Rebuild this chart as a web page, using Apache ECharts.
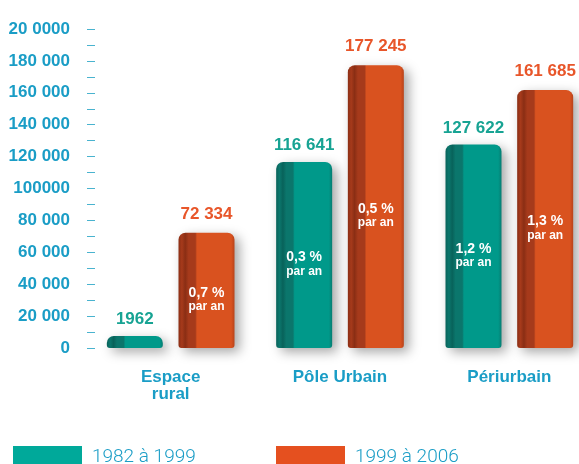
<!DOCTYPE html>
<html>
<head>
<meta charset="utf-8">
<script src="https://cdn.jsdelivr.net/npm/echarts@6/dist/echarts.min.js"></script>
<style>
html,body{margin:0;padding:0;background:#fff;}
#cmChart{width:579px;height:464px;}
</style>
</head>
<body>
<div id="cmChart"></div>
<script>
var categories = ['Espace\nrural', 'P\u00f4le Urbain', 'P\u00e9riurbain'];
var serieA = '1982 \u00e0 1999';
var serieB = '1999 \u00e0 2006';
var valuesA = [1962, 116641, 127622];
var valuesB = [72334, 177245, 161685];
var ratesA = [null, '0,3', '1,2'];
var ratesB = ['0,7', '0,5', '1,3'];
var tickLabels = ['0', '20 000', '40 000', '60 000', '80 000', '100000', '120 000', '140 000', '160 000', '180 000', '20 0000'];

var blue = '#1a9dc6';

//nombre au format francais
function fmt(v){
	var s = String(v);
	if(s.length > 4){
		s = s.replace(/\B(?=(\d{3})+(?!\d))/g, ' ');
	}
	return s;
}

function barColor(dark, mid, face, edge){
	return new echarts.graphic.LinearGradient(0, 0, 1, 0, [
		{offset: 0, color: dark},
		{offset: 0.06, color: mid},
		{offset: 0.12, color: dark},
		{offset: 0.18, color: mid},
		{offset: 0.30, color: mid},
		{offset: 0.33, color: face},
		{offset: 0.94, color: face},
		{offset: 1, color: edge}
	]);
}

function inner(rates){
	return {
		show: true,
		position: 'inside',
		offset: [0, 9],
		formatter: function(p){
			var r = rates[p.dataIndex];
			if(r == null) return '';
			return '{a|' + r + ' %}\n{b|par an}';
		},
		rich: {
			a: {color: '#fff', fontSize: 14, fontWeight: 'bold', fontFamily: 'Liberation Sans', lineHeight: 15},
			b: {color: '#fff', fontSize: 12, fontWeight: 'bold', fontFamily: 'Liberation Sans', lineHeight: 13}
		}
	};
}

var legendText = {color: blue, fontSize: 19, fontWeight: 300, fontFamily: 'Roboto', padding: [3, 0, 0, 5]};

var myChart = echarts.init(document.getElementById('cmChart'));
option = {
	backgroundColor: '#fff',
	animation: false,
	grid: {left: 86, width: 508, top: 29, bottom: 116, outerBoundsMode: 'none', containLabel: false},
	legend: [
		{
			left: 8, top: 441, itemWidth: 69, itemHeight: 23, itemGap: 0,
			icon: 'rect',
			data: [{name: serieA, itemStyle: {color: '#00a99a', shadowBlur: 0, shadowOffsetX: 0, shadowOffsetY: 0}}],
			textStyle: legendText
		},
		{
			left: 271, top: 441, itemWidth: 69, itemHeight: 23, itemGap: 0,
			icon: 'rect',
			data: [{name: serieB, itemStyle: {color: '#e5501f', shadowBlur: 0, shadowOffsetX: 0, shadowOffsetY: 0}}],
			textStyle: legendText
		}
	],
	xAxis: [
		{
			type: 'category',
			data: categories,
			axisLine: {show: false},
			axisTick: {show: false},
			axisLabel: {
				margin: 21,
				color: blue,
				fontSize: 17,
				fontWeight: 'bold',
				fontFamily: 'Liberation Sans',
				lineHeight: 17
			}
		},
		{
			type: 'category',
			data: categories,
			show: false
		}
	],
	yAxis: {
		type: 'value',
		min: 0,
		max: 200000,
		interval: 20000,
		offset: -9,
		axisLine: {show: false},
		splitLine: {show: false},
		axisTick: {show: true, length: 8, lineStyle: {color: '#49b3cf', width: 1}},
		minorTick: {show: true, splitNumber: 2, length: 8, lineStyle: {color: '#49b3cf', width: 1}},
		axisLabel: {
			margin: 25,
			color: blue,
			fontSize: 17,
			fontWeight: 'bold',
			fontFamily: 'Liberation Sans',
			padding: [0, 0, 10, 0],
			formatter: function(v){
				return tickLabels[Math.round(v / 20000)];
			}
		}
	},
	series: [
		{
			name: serieA,
			type: 'bar',
			data: valuesA,
			barWidth: 56,
			barGap: '28%',
			barMinHeight: 12,
			itemStyle: {
				color: barColor('#08625a', '#0b766c', '#00998a', '#067d72'),
				borderRadius: [7, 7, 3, 3],
				shadowBlur: 12,
				shadowColor: 'rgba(0,0,0,0.35)',
				shadowOffsetX: 5,
				shadowOffsetY: 4
			},
			label: {
				show: true,
				position: 'top',
				distance: 8,
				color: '#17a393',
				fontSize: 17,
				fontWeight: 'bold',
				fontFamily: 'Liberation Sans',
				formatter: function(p){ return fmt(p.value); }
			},
			emphasis: {disabled: true}
		},
		{
			name: serieB,
			type: 'bar',
			data: valuesB,
			barWidth: 56,
			barGap: '28%',
			itemStyle: {
				color: barColor('#8a2e14', '#a63a1b', '#d9521f', '#b9431a'),
				borderRadius: [7, 7, 3, 3],
				shadowBlur: 12,
				shadowColor: 'rgba(0,0,0,0.35)',
				shadowOffsetX: 5,
				shadowOffsetY: 4
			},
			label: {
				show: true,
				position: 'top',
				distance: 10,
				color: '#e8562a',
				fontSize: 17,
				fontWeight: 'bold',
				fontFamily: 'Liberation Sans',
				formatter: function(p){ return fmt(p.value); }
			},
			emphasis: {disabled: true}
		},
		//taux annuels dans les barres
		{
			name: serieA,
			type: 'bar',
			xAxisIndex: 1,
			data: valuesA,
			barWidth: 56,
			barGap: '28%',
			barMinHeight: 12,
			z: 3,
			itemStyle: {color: 'rgba(0,0,0,0)'},
			label: inner(ratesA),
			emphasis: {disabled: true},
			silent: true
		},
		{
			name: serieB,
			type: 'bar',
			xAxisIndex: 1,
			data: valuesB,
			barWidth: 56,
			barGap: '28%',
			z: 3,
			itemStyle: {color: 'rgba(0,0,0,0)'},
			label: inner(ratesB),
			emphasis: {disabled: true},
			silent: true
		}
	]
};
myChart.setOption(option);
</script>
</body>
</html>
